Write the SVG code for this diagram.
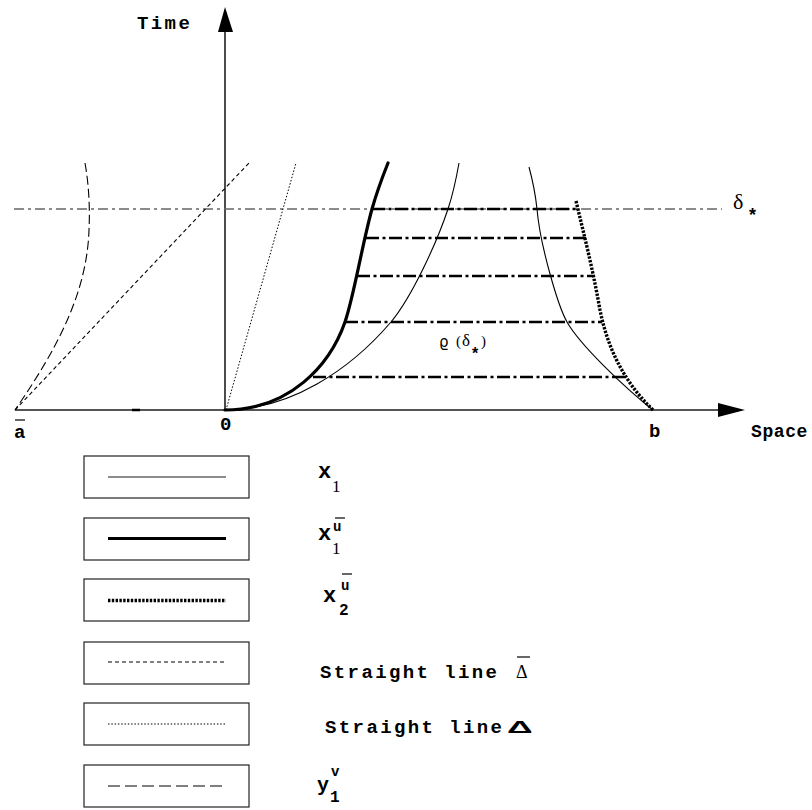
<svg xmlns="http://www.w3.org/2000/svg" width="812" height="810" viewBox="0 0 812 810">
<style>
.mono{font-family:"Liberation Mono","DejaVu Sans Mono",monospace;font-weight:bold;fill:#000}
.lab{font-size:19px;letter-spacing:2.4px}
.serif{font-family:"Liberation Serif","DejaVu Serif",serif;fill:#000}
.box{fill:#fff;stroke:#222;stroke-width:1.2}
.thin{fill:none;stroke:#000;stroke-width:1.1}
.thick{fill:none;stroke:#000;stroke-width:3.2;stroke-linecap:round}
.dotthick{fill:none;stroke:#000;stroke-width:3.4;stroke-dasharray:2.4 1.4}
.dash{fill:none;stroke:#000;stroke-width:1.1;stroke-dasharray:4 3}
.dots{fill:none;stroke:#000;stroke-width:1;stroke-dasharray:1.5 1.8}
.longdash{fill:none;stroke:#000;stroke-width:1.1;stroke-dasharray:9 4}
.dashdot{fill:none;stroke:#000;stroke-width:2.5;stroke-dasharray:13 3.5 3 3.5}
.bar{stroke:#000;stroke-width:1.2}
</style>

<g id="axes">
  <line x1="15" y1="410" x2="722" y2="410" stroke="#555" stroke-width="2"/>
  <line x1="132" y1="410" x2="140" y2="410" stroke="#000" stroke-width="2.5"/>
  <polygon points="745,410 718,403 718,417" fill="#000"/>
  <line x1="225" y1="410" x2="225" y2="30" stroke="#000" stroke-width="1.4"/>
  <polygon points="225,7 218,32 233,32" fill="#000"/>
  <text class="mono lab" x="137" y="29">Time</text>
  <text class="mono" x="751" y="437" font-size="18" letter-spacing="0.6">Space</text>
  <text class="mono" x="220" y="430" font-size="19">0</text>
  <text class="mono" x="649" y="437" font-size="19">b</text>
  <text class="mono" x="14" y="438" font-size="19">a</text>
  <line class="bar" x1="15" y1="420" x2="25" y2="420"/>
</g>

<g id="delta-line">
  <line x1="14" y1="209" x2="722" y2="209" stroke="#666" stroke-width="1.7" stroke-dasharray="10 4 3 4"/>
  <text class="serif" x="733" y="209" font-size="22">δ</text>
  <text x="749" y="221" font-family="Liberation Sans,Arial,sans-serif" font-weight="bold" font-size="18">*</text>
</g>

<g id="connectors">
  <path class="longdash" d="M85,163 C89,185 90,210 89,230 C87,290 60,345 15,410" stroke-dasharray="8 4"/>
  <line class="dash" x1="15" y1="410" x2="249" y2="163"/>
  <line class="dots" x1="226" y1="410" x2="296" y2="163"/>
  <path class="thin" d="M225,410 C290,410 350,370 391,322 C411,298 436,245 448,209 C452,197 456,180 459,163"/>
  <path class="thin" d="M653,410 C625,388 580,345 567,322 C558,306 540,245 537,209 C535,190 532,178 529,167"/>
  <path class="thick" d="M225,410 C290,410 330,365 345,322 C354,296 362,245 372,209 C376,195 382,178 388,163"/>
  <path class="dotthick" d="M576,201 C584,235 592,265 600,310 C607,345 622,380 653,410"/>
  <line class="dashdot" x1="372" y1="209" x2="577" y2="209"/>
  <line class="dashdot" x1="366" y1="238" x2="587" y2="238"/>
  <line class="dashdot" x1="357" y1="276" x2="593" y2="276"/>
  <line class="dashdot" x1="345" y1="322" x2="602" y2="322"/>
  <line class="dashdot" x1="313" y1="377" x2="628" y2="377"/>
</g>

<g id="rho-label">
  <text x="439" y="347" font-family="DejaVu Sans,sans-serif" font-size="15">ϱ</text>
  <text class="serif" x="456" y="346" font-size="15">(</text>
  <text class="serif" x="462" y="346" font-size="17">δ</text>
  <text x="472" y="359" font-family="Liberation Sans,Arial,sans-serif" font-weight="bold" font-size="16">*</text>
  <text class="serif" x="481" y="346" font-size="15">)</text>
</g>

<g id="legend-x1">
  <rect class="box" x="84" y="456" width="165" height="42"/>
  <line x1="108" y1="477" x2="226" y2="477" stroke="#666" stroke-width="1.4"/>
  <text class="mono" x="318" y="478" font-size="22">x</text>
  <text class="serif" x="332" y="492" font-size="17">1</text>
</g>

<g id="legend-x1u">
  <rect class="box" x="84" y="518" width="165" height="42"/>
  <line x1="108" y1="538.5" x2="226" y2="538.5" stroke="#000" stroke-width="3.2"/>
  <text class="mono" x="318" y="540" font-size="22">x</text>
  <text class="mono" x="333" y="531" font-size="14">u</text>
  <line class="bar" x1="335" y1="518" x2="345" y2="518"/>
  <text class="serif" x="332" y="554" font-size="17">1</text>
</g>

<g id="legend-x2u">
  <rect class="box" x="84" y="579" width="165" height="42"/>
  <line class="dotthick" x1="108" y1="600.5" x2="226" y2="600.5" stroke-width="3" stroke-dasharray="2 1.4"/>
  <text class="mono" x="323" y="602" font-size="22">x</text>
  <text class="mono" x="341" y="590" font-size="14">u</text>
  <line class="bar" x1="342" y1="574" x2="352" y2="574"/>
  <text class="mono" x="339" y="615" font-size="16">2</text>
</g>

<g id="legend-delta-bar">
  <rect class="box" x="84" y="642" width="165" height="42"/>
  <line class="dash" x1="108" y1="662" x2="226" y2="662" stroke-width="1"/>
  <text class="mono lab" x="320" y="678">Straight line</text>
  <text class="serif" x="516" y="678" font-size="18">Δ</text>
  <line class="bar" x1="517" y1="657" x2="530" y2="657"/>
</g>

<g id="legend-delta">
  <rect class="box" x="84" y="703" width="165" height="42"/>
  <line class="dots" x1="108" y1="724" x2="226" y2="724" stroke-dasharray="1.2 1.6"/>
  <text class="mono lab" x="325" y="733">Straight line</text>
  <text transform="translate(507,733) scale(2.1,1)" font-family="Liberation Sans,Arial,sans-serif" font-weight="bold" font-size="17">Δ</text>
</g>

<g id="legend-y1v">
  <rect class="box" x="84" y="765" width="165" height="42"/>
  <line x1="108" y1="786" x2="226" y2="786" stroke="#000" stroke-width="1.1" stroke-dasharray="12 5"/>
  <text class="mono" x="317" y="791" font-size="20">y</text>
  <text class="mono" x="331" y="776" font-size="14">v</text>
  <text class="mono" x="330" y="802" font-size="16">1</text>
</g>
</svg>
